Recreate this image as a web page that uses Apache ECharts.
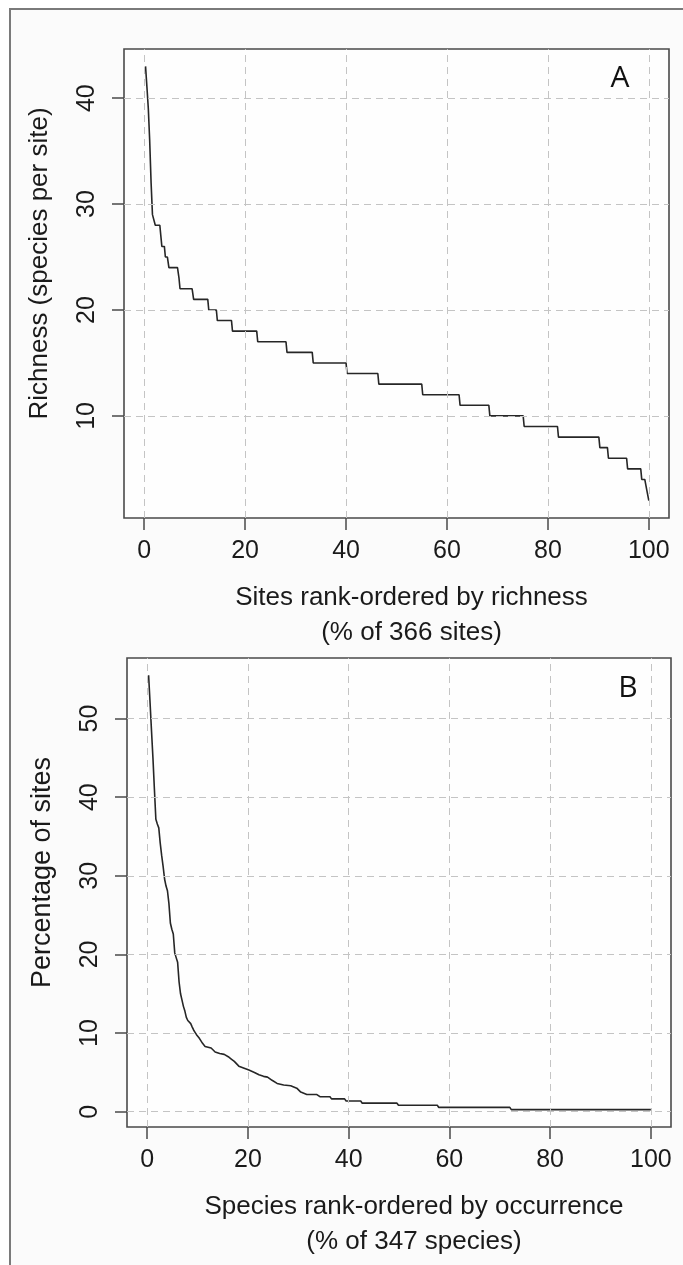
<!DOCTYPE html>
<html>
<head>
<meta charset="utf-8">
<title>Rank-ordered richness and occurrence</title>
<script src="https://cdn.jsdelivr.net/npm/echarts@6/dist/echarts.min.js"></script>
<style>
  html, body { margin: 0; padding: 0; background: #ffffff; }
  #chart { width: 683px; height: 1265px; }
</style>
</head>
<body>
<div id="chart"></div>
<script>
// Panel A: species richness per site, sites ranked from richest to poorest.
// Each richness level runs horizontally from levelStart to levelEnd (% of sites).
const richLevels = [43, 41, 39, 36, 32, 29, 28, 27, 26, 25, 24, 23, 22, 21, 20, 19, 18, 17, 16, 15, 14, 13, 12, 11, 10, 9, 8, 7, 6, 5, 4, 3, 2];
const levelStart = [0.27, 0.55, 0.82, 1.09, 1.37, 1.64, 2.2, 3.3, 3.5, 4.2, 4.9, 6.9, 7.1, 9.8, 12.8, 14.5, 17.5, 22.5, 28.3, 33.5, 40.2, 46.5, 55.2, 62.6, 68.5, 75.3, 82.1, 90.3, 92.0, 95.8, 98.6, 99.6, 100];
const levelEnd   = [0.27, 0.55, 0.82, 1.09, 1.37, 1.98, 3.1, 3.3, 4.0, 4.6, 6.6, 6.9, 9.5, 12.6, 14.3, 17.3, 22.3, 28.1, 33.3, 40.0, 46.3, 55.0, 62.4, 68.3, 75.1, 81.9, 90.1, 91.8, 95.6, 98.4, 99.2, 99.6, 100];

// Panel B: percentage of sites occupied by each species, species ranked by occurrence.
const occX = [0.29, 0.58, 0.86, 1.15, 1.44, 1.73, 2.02, 2.31, 2.59, 2.88, 3.17, 3.46, 3.75, 4.03, 4.32, 4.61, 4.9, 5.19, 5.48, 5.76, 6.05, 6.34, 6.63, 6.92, 7.2, 7.49, 7.78, 8.07, 8.36, 8.65, 8.93, 9.22, 9.51, 9.8, 10.4, 11.0, 11.5, 12.1, 12.7, 13.5, 14.4, 15.3, 16.1, 16.7, 17.3, 18.2, 19.0, 20.2, 21.3, 22.2, 23.1, 23.9, 24.8, 25.8, 27.1, 28.5, 29.7, 30.5, 31.7, 33.7, 34.3, 36.3, 36.6, 39.2, 39.5, 42.4, 42.7, 49.6, 49.9, 57.6, 57.9, 72.0, 72.3, 100];
const occY = [55.5, 52, 48.5, 45, 41, 37.2, 36.6, 36.1, 34.2, 32.6, 31.2, 29.6, 28.7, 28.1, 26.5, 24.0, 23.2, 22.6, 20.2, 19.6, 19.0, 16.5, 15.0, 14.2, 13.4, 12.8, 12.0, 11.6, 11.4, 11.2, 10.8, 10.4, 10.1, 9.8, 9.3, 8.7, 8.3, 8.2, 8.1, 7.6, 7.4, 7.3, 7.0, 6.7, 6.4, 5.8, 5.6, 5.3, 5.0, 4.7, 4.5, 4.4, 4.0, 3.6, 3.4, 3.3, 3.0, 2.5, 2.2, 2.19, 1.91, 1.91, 1.64, 1.64, 1.37, 1.37, 1.09, 1.09, 0.82, 0.82, 0.55, 0.55, 0.27, 0.27];

// Tick positions
const xTicks = [0, 20, 40, 60, 80, 100];
const yTicksA = [10, 20, 30, 40];
const yTicksB = [0, 10, 20, 30, 40, 50];

// Axis titles and panel letters
const xTitleA = 'Sites rank-ordered by richness\n(% of 366 sites)';
const yTitleA = 'Richness (species per site)';
const xTitleB = 'Species rank-ordered by occurrence\n(% of 347 species)';
const yTitleB = 'Percentage of sites';
const panelLetters = ['A', 'B'];

// ---- build series data ----
const dataA = [];
richLevels.forEach((v, i) => {
  dataA.push([levelStart[i], v]);
  if (levelEnd[i] !== levelStart[i]) dataA.push([levelEnd[i], v]);
});
const dataB = occX.map((x, i) => [x, occY[i]]);

// ---- shared styles ----
const FONT = '"Liberation Sans", Arial, Helvetica, sans-serif';
const TEXT = '#1a1a1a';
const BOX = '#4a4a4a';
const GRIDLINE = { color: '#c4c4c4', width: 1, type: [7, 5] };
const CURVE = { color: '#262626', width: 1.6 };

function xAxisFor(gridIndex, name, nameGap) {
  return {
    type: 'value', gridIndex, min: -4, max: 104,
    axisLine: { show: false, onZero: false },
    axisTick: { show: true, length: 12, customValues: xTicks, lineStyle: { color: BOX, width: 1.5 } },
    axisLabel: { customValues: xTicks, margin: 21, fontSize: 25, color: TEXT, fontFamily: FONT },
    splitLine: { show: false },
    name, nameLocation: 'middle', nameGap,
    nameTextStyle: { fontSize: 26, lineHeight: 35, color: TEXT, fontFamily: FONT, padding: [0, 0, 0, 30] }
  };
}
function yAxisFor(gridIndex, min, max, ticks, name, nameSize) {
  return {
    type: 'value', gridIndex, min, max,
    axisLine: { show: false, onZero: false },
    axisTick: { show: true, length: 12, customValues: ticks, lineStyle: { color: BOX, width: 1.5 } },
    axisLabel: { customValues: ticks, rotate: 90, margin: 24, fontSize: 25, color: TEXT, fontFamily: FONT },
    splitLine: { show: false },
    name, nameLocation: 'middle', nameGap: 71, nameRotate: 90,
    nameTextStyle: { fontSize: nameSize, color: TEXT, fontFamily: FONT, padding: [0, 0, 0, 40] }
  };
}
function gridLines(xIdx, yIdx, yTicks) {
  return {
    type: 'line', xAxisIndex: xIdx, yAxisIndex: yIdx, data: [], z: 1, silent: true,
    markLine: {
      silent: true, symbol: ['none', 'none'], label: { show: false },
      lineStyle: GRIDLINE, animation: false,
      data: xTicks.map(v => ({ xAxis: v })).concat(yTicks.map(v => ({ yAxis: v })))
    }
  };
}

const chart = echarts.init(document.getElementById('chart'), null, { renderer: 'canvas' });
chart.setOption({
  animation: false,
  backgroundColor: '#ffffff',
  grid: [
    { left: 124, top: 49, width: 545, height: 469, show: true, borderColor: BOX, borderWidth: 1.6, backgroundColor: '#fefefe' },
    { left: 127, top: 658, width: 544, height: 469, show: true, borderColor: BOX, borderWidth: 1.6, backgroundColor: '#fefefe' }
  ],
  xAxis: [xAxisFor(0, xTitleA, 62), xAxisFor(1, xTitleB, 62)],
  yAxis: [
    yAxisFor(0, 0.36, 44.64, yTicksA, yTitleA, 26),
    yAxisFor(1, -1.94, 57.7, yTicksB, yTitleB, 27)
  ],
  series: [
    gridLines(0, 0, yTicksA),
    gridLines(1, 1, yTicksB),
    { type: 'line', xAxisIndex: 0, yAxisIndex: 0, data: dataA, showSymbol: false, symbol: 'none', z: 3, lineStyle: CURVE },
    { type: 'line', xAxisIndex: 1, yAxisIndex: 1, data: dataB, showSymbol: false, symbol: 'none', z: 3, lineStyle: CURVE }
  ],
  graphic: [
    // outer figure frame (left and top edges visible)
    { type: 'rect', shape: { x: 10, y: 9, width: 700, height: 1300 }, style: { fill: '#fbfbfb', stroke: '#7a7a7a', lineWidth: 2 }, z: -10, silent: true },
    { type: 'text', x: 620, y: 78, style: { text: panelLetters[0], font: '30px "Open Sans", "DejaVu Sans", sans-serif', fill: '#111', align: 'center', verticalAlign: 'middle' }, z: 10 },
    { type: 'text', x: 628, y: 688, style: { text: panelLetters[1], font: '30px "Open Sans", "DejaVu Sans", sans-serif', fill: '#111', align: 'center', verticalAlign: 'middle' }, z: 10 }
  ]
});
</script>
</body>
</html>
